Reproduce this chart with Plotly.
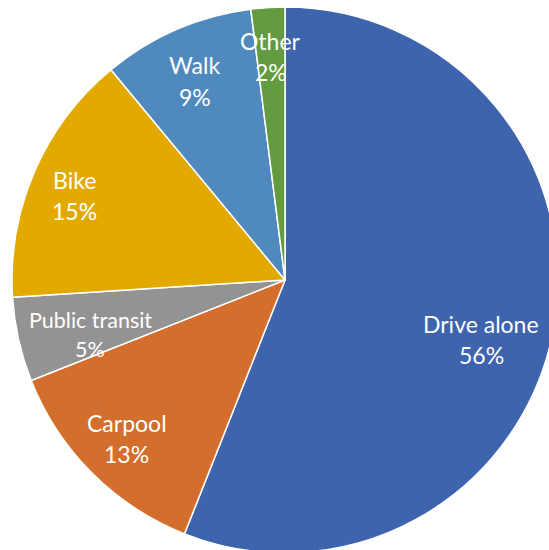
import math
import plotly.graph_objects as go

# Commute mode share (%)
modes = ["Drive alone", "Carpool", "Public transit", "Bike", "Walk", "Other"]
shares = [56, 13, 5, 15, 9, 2]
colors = ["#3D64AD", "#D36E2D", "#939393", "#E2AA00", "#5089BE", "#629B40"]

# label placement (fraction of radius, angular nudge in degrees, font size)
label_r = [0.75, 0.82, 0.74, 0.83, 0.80, 0.82]
label_nudge = [6, 0, -3, -1.5, -1, 0]
label_size = [23, 23, 21.5, 23, 23, 23]

FONT = "Lato, 'Open Sans', sans-serif"

fig = go.Figure(
    go.Pie(
        labels=modes,
        values=shares,
        sort=False,
        direction="clockwise",
        rotation=0,
        marker=dict(colors=colors, line=dict(color="white", width=1.5)),
        textinfo="none",
        hoverinfo="skip",
        showlegend=False,
    )
)

# place the "name / percent" labels at each slice's mid-angle
total = sum(shares)
annotations = []
cum = 0.0
for name, v, rf, dth, fs in zip(modes, shares, label_r, label_nudge, label_size):
    mid = (cum + v / 2) / total * 360 + dth
    cum += v
    th = math.radians(mid)
    x = 0.5 + rf * math.sin(th) / 2
    y = 0.5 + rf * math.cos(th) / 2
    pct = round(v / total * 100)
    gap = fs * 0.68
    for txt, shift in ((name, gap), (f"{pct}%", -gap)):
        annotations.append(dict(x=x, y=y, xref="paper", yref="paper", text=txt,
                                showarrow=False, yshift=shift,
                                xanchor="center", yanchor="middle",
                                font=dict(family=FONT, size=fs, color="white")))

fig.update_layout(
    width=560,
    height=560,
    autosize=False,
    margin=dict(l=12, r=2, t=7, b=7),
    paper_bgcolor="white",
    plot_bgcolor="white",
    annotations=annotations,
)

fig.write_html(
    "out.html",
    config={"displayModeBar": False},
    post_script="document.documentElement.style.overflow='hidden';"
                "document.body.style.overflow='hidden';"
                "document.body.style.margin='0';",
)
